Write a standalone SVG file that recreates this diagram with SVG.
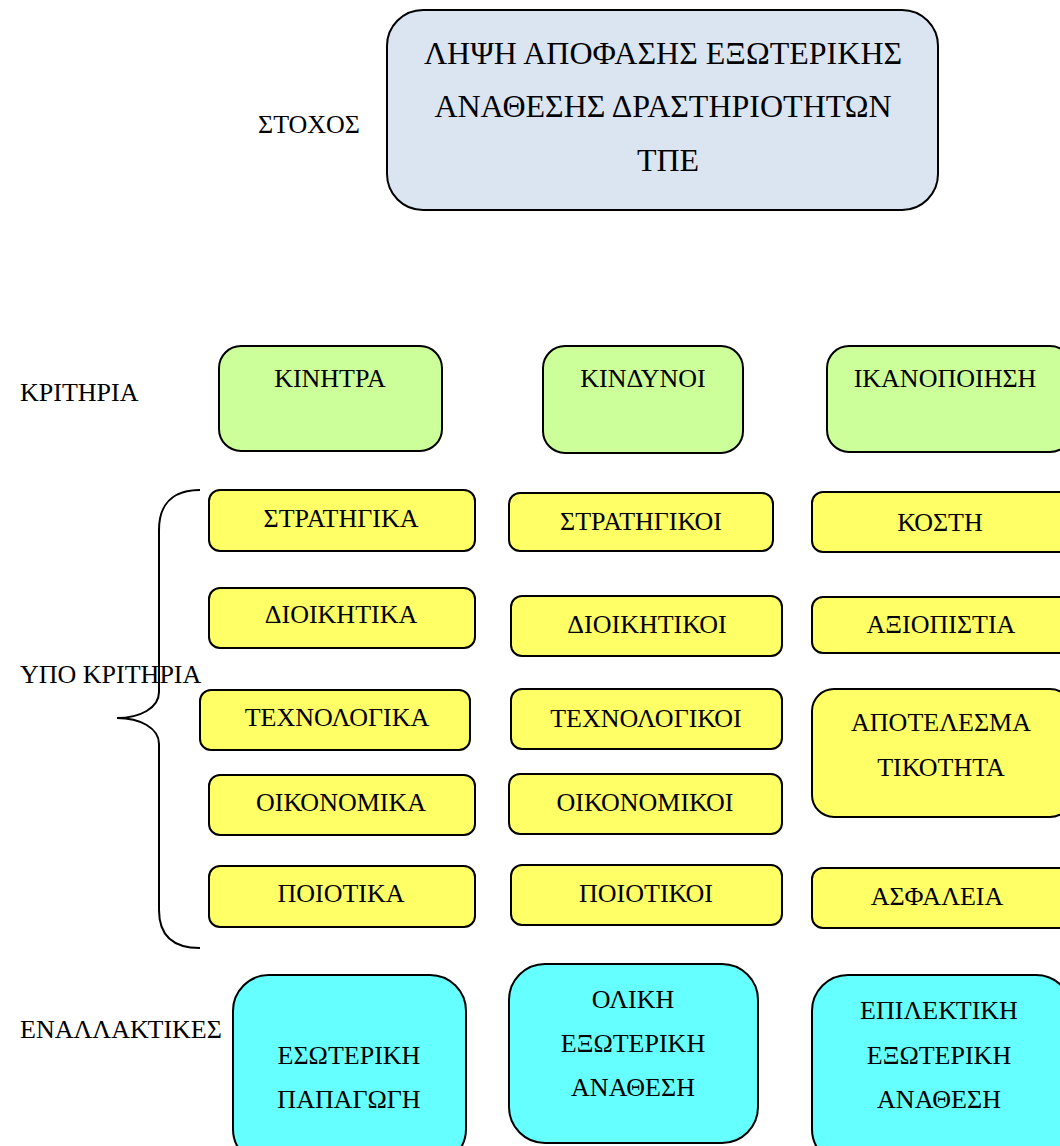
<svg xmlns="http://www.w3.org/2000/svg" width="1060" height="1146" viewBox="0 0 1060 1146">
<style>
text{font-family:"Liberation Serif","DejaVu Serif",serif;font-size:26px;fill:#000}
.c{text-anchor:middle}
.big{font-size:32px}
rect{stroke:#000;stroke-width:2}
.top{fill:#dbe5f1}
.g{fill:#ccff99}
.y{fill:#ffff66}
.cy{fill:#66ffff}
.brace{fill:none;stroke:#000;stroke-width:2}
</style>
<rect width="1060" height="1146" fill="#fff" style="stroke:none"/>

<g id="labels">
<text x="258" y="133">ΣΤΟΧΟΣ</text>
<text x="20" y="401">ΚΡΙΤΗΡΙΑ</text>
<text x="20" y="683">ΥΠΟ ΚΡΙΤΗΡΙΑ</text>
<text x="20" y="1038">ΕΝΑΛΛΑΚΤΙΚΕΣ</text>
</g>

<g id="goal">
<rect class="top" x="387" y="10" width="551" height="200" rx="36"/>
<text class="c big" x="663" y="64">ΛΗΨΗ ΑΠΟΦΑΣΗΣ ΕΞΩΤΕΡΙΚΗΣ</text>
<text class="c big" x="663" y="117">ΑΝΑΘΕΣΗΣ ΔΡΑΣΤΗΡΙΟΤΗΤΩΝ</text>
<text class="c big" x="668" y="171">ΤΠΕ</text>
</g>

<g id="crit-kinitra"><rect class="g" x="219" y="346" width="223" height="105" rx="22"/><text class="c" x="330" y="387">ΚΙΝΗΤΡΑ</text></g>
<g id="crit-kindynoi"><rect class="g" x="543" y="346" width="200" height="107" rx="22"/><text class="c" x="643" y="387">ΚΙΝΔΥΝΟΙ</text></g>
<g id="crit-ikanopoiisi"><rect class="g" x="827" y="346" width="245" height="106" rx="22"/><text class="c" x="945" y="387">ΙΚΑΝΟΠΟΙΗΣΗ</text></g>

<g id="sub-stratigika"><rect class="y" x="209" y="490" width="266" height="61" rx="11"/><text class="c" x="341" y="527">ΣΤΡΑΤΗΓΙΚΑ</text></g>
<g id="sub-dioikitika"><rect class="y" x="209" y="588" width="266" height="60" rx="11"/><text class="c" x="341" y="623">ΔΙΟΙΚΗΤΙΚΑ</text></g>
<g id="sub-technologika"><rect class="y" x="200" y="690" width="270" height="60" rx="11"/><text class="c" x="337" y="726">ΤΕΧΝΟΛΟΓΙΚΑ</text></g>
<g id="sub-oikonomika"><rect class="y" x="209" y="775" width="266" height="60" rx="11"/><text class="c" x="341" y="811">ΟΙΚΟΝΟΜΙΚΑ</text></g>
<g id="sub-poiotika"><rect class="y" x="209" y="866" width="266" height="61" rx="11"/><text class="c" x="341" y="902">ΠΟΙΟΤΙΚΑ</text></g>

<g id="sub-stratigikoi"><rect class="y" x="509" y="493" width="264" height="58" rx="11"/><text class="c" x="641" y="530">ΣΤΡΑΤΗΓΙΚΟΙ</text></g>
<g id="sub-dioikitikoi"><rect class="y" x="511" y="596" width="271" height="60" rx="11"/><text class="c" x="647" y="633">ΔΙΟΙΚΗΤΙΚΟΙ</text></g>
<g id="sub-technologikoi"><rect class="y" x="511" y="689" width="271" height="60" rx="11"/><text class="c" x="646" y="727">ΤΕΧΝΟΛΟΓΙΚΟΙ</text></g>
<g id="sub-oikonomikoi"><rect class="y" x="509" y="774" width="273" height="60" rx="11"/><text class="c" x="645" y="811">ΟΙΚΟΝΟΜΙΚΟΙ</text></g>
<g id="sub-poiotikoi"><rect class="y" x="511" y="865" width="271" height="60" rx="11"/><text class="c" x="646" y="902">ΠΟΙΟΤΙΚΟΙ</text></g>

<g id="sub-kosti"><rect class="y" x="812" y="492" width="260" height="60" rx="11"/><text class="c" x="940" y="531">ΚΟΣΤΗ</text></g>
<g id="sub-axiopistia"><rect class="y" x="812" y="597" width="260" height="56" rx="11"/><text class="c" x="941" y="633">ΑΞΙΟΠΙΣΤΙΑ</text></g>
<g id="sub-apotelesmatikotita"><rect class="y" x="812" y="689" width="260" height="128" rx="22"/><text class="c" x="941" y="731">ΑΠΟΤΕΛΕΣΜΑ</text><text class="c" x="941" y="776">ΤΙΚΟΤΗΤΑ</text></g>
<g id="sub-asfaleia"><rect class="y" x="812" y="868" width="260" height="60" rx="11"/><text class="c" x="937" y="905">ΑΣΦΑΛΕΙΑ</text></g>

<g id="alt-esoteriki"><rect class="cy" x="233" y="975" width="233" height="190" rx="36"/><text class="c" x="349" y="1064">ΕΣΩΤΕΡΙΚΗ</text><text class="c" x="349" y="1108">ΠΑΠΑΓΩΓΗ</text></g>
<g id="alt-oliki"><rect class="cy" x="509" y="964" width="249" height="179" rx="36"/><text class="c" x="633" y="1008">ΟΛΙΚΗ</text><text class="c" x="633" y="1052">ΕΞΩΤΕΡΙΚΗ</text><text class="c" x="633" y="1096">ΑΝΑΘΕΣΗ</text></g>
<g id="alt-epilektiki"><rect class="cy" x="812" y="975" width="260" height="190" rx="36"/><text class="c" x="939" y="1019">ΕΠΙΛΕΚΤΙΚΗ</text><text class="c" x="939" y="1064">ΕΞΩΤΕΡΙΚΗ</text><text class="c" x="939" y="1108">ΑΝΑΘΕΣΗ</text></g>

<g id="connectors">
<path class="brace" d="M200,490 C172,490 159,505 159,530 L159,692 C159,708 140,718 117,718 C140,718 159,728 159,744 L159,910 C159,935 172,948 200,948"/>
</g>
</svg>
